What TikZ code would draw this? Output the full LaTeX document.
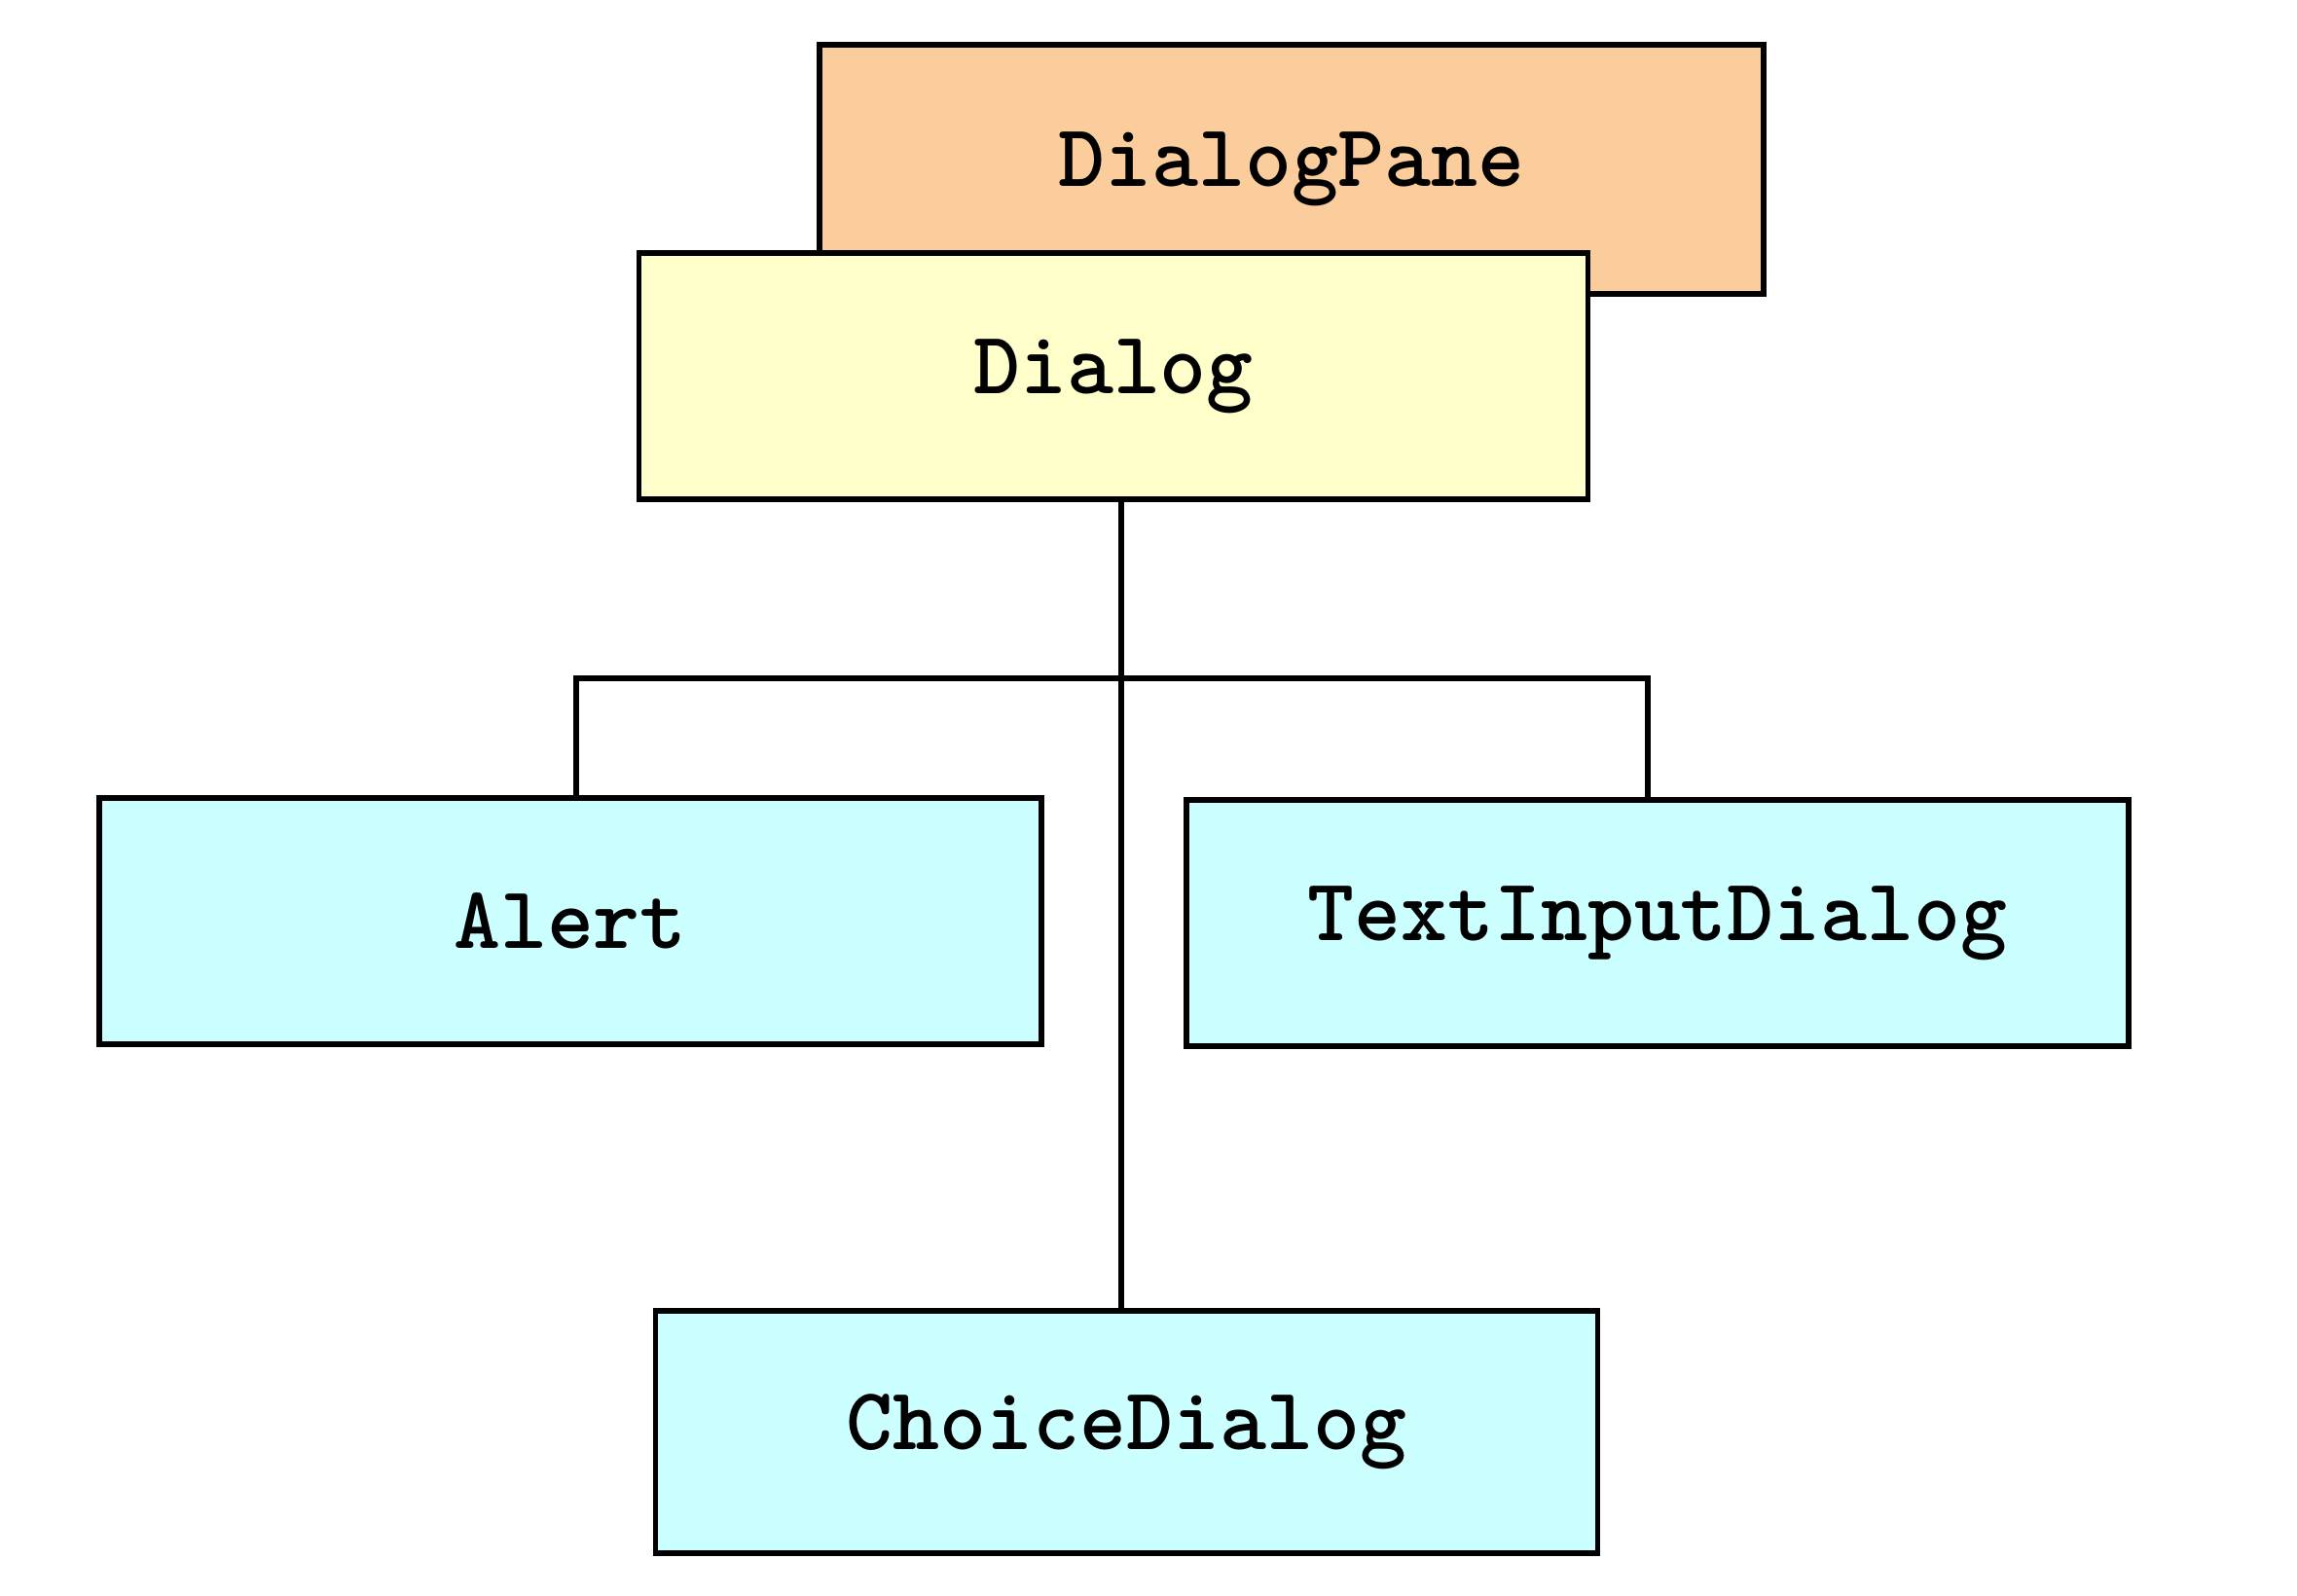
\documentclass[tikz,border=0pt]{standalone}
\usepackage{tikz}
\definecolor{panepeach}{HTML}{FBCD9C}
\definecolor{dialogyellow}{HTML}{FFFFCC}
\definecolor{subcyan}{HTML}{CCFFFF}
\tikzset{
    classbox/.style = {draw, line width=1.6pt, minimum width=9.7cm, minimum height=2.53cm, inner sep=0pt, font=\fontsize{26}{30}\selectfont\ttfamily\bfseries},
    link/.style = {line width=1.6pt}
}
\begin{document}
\begin{tikzpicture}
            \useasboundingbox (0, 0) rectangle (23.6, -16.4);
            \node[classbox, fill=panepeach, minimum width=9.7cm, minimum height=2.56cm] (pane) at (13.27, -1.74) {DialogPane};
            \node[classbox, fill=dialogyellow, minimum width=9.75cm] (dialog) at (11.44, -3.865) {Dialog};
            \node[classbox, fill=subcyan, minimum width=9.68cm] (alert) at (5.86, -9.465) {Alert};
            \node[classbox, fill=subcyan, minimum width=9.68cm] (textin) at (17.03, -9.485) {TextInputDialog};
            \node[classbox, fill=subcyan, minimum width=9.68cm, minimum height=2.49cm] (choice) at (11.575, -14.715) {ChoiceDialog};
            \coordinate (bar) at (11.52, -6.97);
            \draw[link] (dialog.south -| bar) -- (choice.north -| bar);
            \draw[link] ([xshift=0.06cm]alert.north) |- (bar) -| ([xshift=-0.1cm]textin.north);
        \end{tikzpicture}
\end{document}
